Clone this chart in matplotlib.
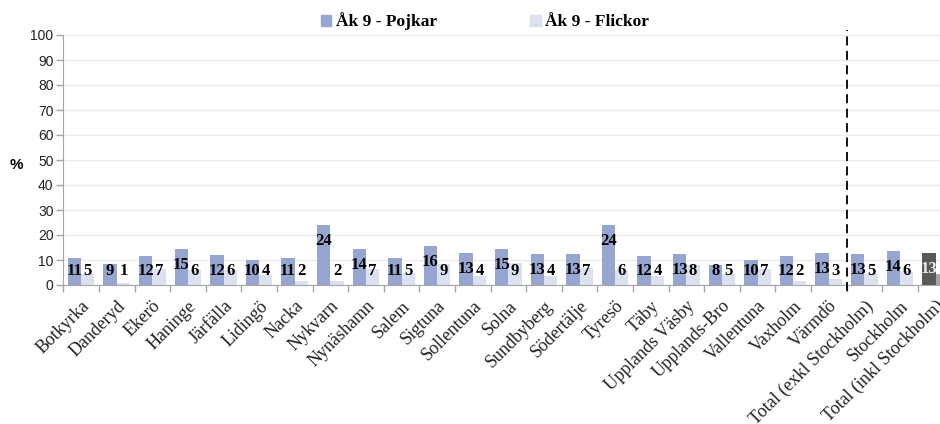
import matplotlib
matplotlib.use('Agg')
import matplotlib.pyplot as plt
import numpy as np

kommuner = ['Botkyrka', 'Danderyd', 'Ekerö', 'Haninge', 'Järfälla', 'Lidingö', 'Nacka',
            'Nykvarn', 'Nynäshamn', 'Salem', 'Sigtuna', 'Sollentuna', 'Solna', 'Sundbyberg',
            'Södertälje', 'Tyresö', 'Täby', 'Upplands Väsby', 'Upplands-Bro', 'Vallentuna',
            'Vaxholm', 'Värmdö', 'Total (exkl Stockholm)', 'Stockholm', 'Total (inkl Stockholm)']
pojkar = [10.9, 8.6, 11.6, 14.6, 12.0, 10.0, 10.9, 24.0, 14.4, 10.9, 15.7, 12.8, 14.6,
          12.6, 12.6, 24.0, 11.6, 12.6, 8.0, 10.0, 11.6, 12.8, 12.6, 13.6, 12.8]
flickor = [4.6, 0.7, 6.6, 6.0, 6.0, 4.1, 1.7, 1.7, 6.6, 4.9, 8.6, 3.6, 8.9,
           3.6, 6.9, 6.0, 3.6, 8.0, 4.6, 6.6, 1.6, 2.6, 4.6, 5.6, 4.6]

serif = 'Liberation Serif'
sans = 'Liberation Sans'

fig = plt.figure(figsize=(9.4, 4.24), dpi=100)
ax = fig.add_axes([63.3/940, 139/424, 890/940, 250/424])

x = np.arange(len(kommuner))
w = 0.375
c_p = ['#97A5D1'] * len(x)
c_f = ['#DCE1F0'] * len(x)
c_p[-1] = '#595959'
c_f[-1] = '#A6A6A6'
b1 = ax.bar(x - w/2, pojkar, w, color=c_p, zorder=2, label='Åk 9 - Pojkar')
b2 = ax.bar(x + w/2, flickor, w, color=c_f, zorder=2, label='Åk 9 - Flickor')

# data labels
for i in x:
    lc = '#EEEEEE' if i == len(x) - 1 else 'black'
    for xi, v in [(i - w/2, pojkar[i]), (i + w/2, flickor[i])]:
        ax.text(xi, max(5.6, v - 6.5), '%d' % round(v), ha='center', va='center',
                fontsize=12, fontweight='bold', family=serif, color=lc, zorder=3)

ax.set_xlim(-0.5, len(x) - 0.5)
ax.set_ylim(0, 100)
ax.set_yticks(np.arange(0, 101, 10))
ax.yaxis.grid(True, color='#EBEBEB', lw=1, zorder=0)
ax.set_axisbelow(True)

ax.set_xticks(np.arange(-0.5, len(x)), minor=False)
ax.set_xticklabels([])
ax.set_xticks(x, minor=True)
ax.set_xticklabels(kommuner, minor=True, rotation=45, ha='right', va='top',
                   rotation_mode='anchor', fontsize=13, family=serif, color='#222222')
ax.tick_params(axis='x', which='minor', length=0, pad=9)
ax.tick_params(axis='x', which='major', length=5, color='#A6A6A6', width=1)
ax.tick_params(axis='y', length=5, color='#A6A6A6', width=1, pad=2, labelsize=10,
               labelcolor='#222222')
for lab in ax.get_yticklabels():
    lab.set_family(sans)

for s in ['top', 'right']:
    ax.spines[s].set_visible(False)
ax.spines['left'].set_color('#A6A6A6')
ax.spines['bottom'].set_color('#A6A6A6')

# dashed divider before totals
ax.plot([21.5, 21.5], [-2.5, 102], ls=(0, (5, 3)), color='black', lw=1.3,
        clip_on=False, zorder=4)

fig.text(16/940, 1 - 165/424, '%', fontsize=11, fontweight='bold', family=sans,
         ha='center', va='center')

leg = fig.legend(handles=[b1, b2], loc='center', bbox_to_anchor=(0.516, 0.95), ncol=2,
                 frameon=False, prop={'family': serif, 'weight': 'bold', 'size': 12.5},
                 handlelength=0.6, handleheight=0.6, handletextpad=0.25, columnspacing=5.4)
leg.legend_handles[0].set_color('#97A5D1')
leg.legend_handles[1].set_color('#DCE1F0')

fig.savefig('out.png', dpi=100)
